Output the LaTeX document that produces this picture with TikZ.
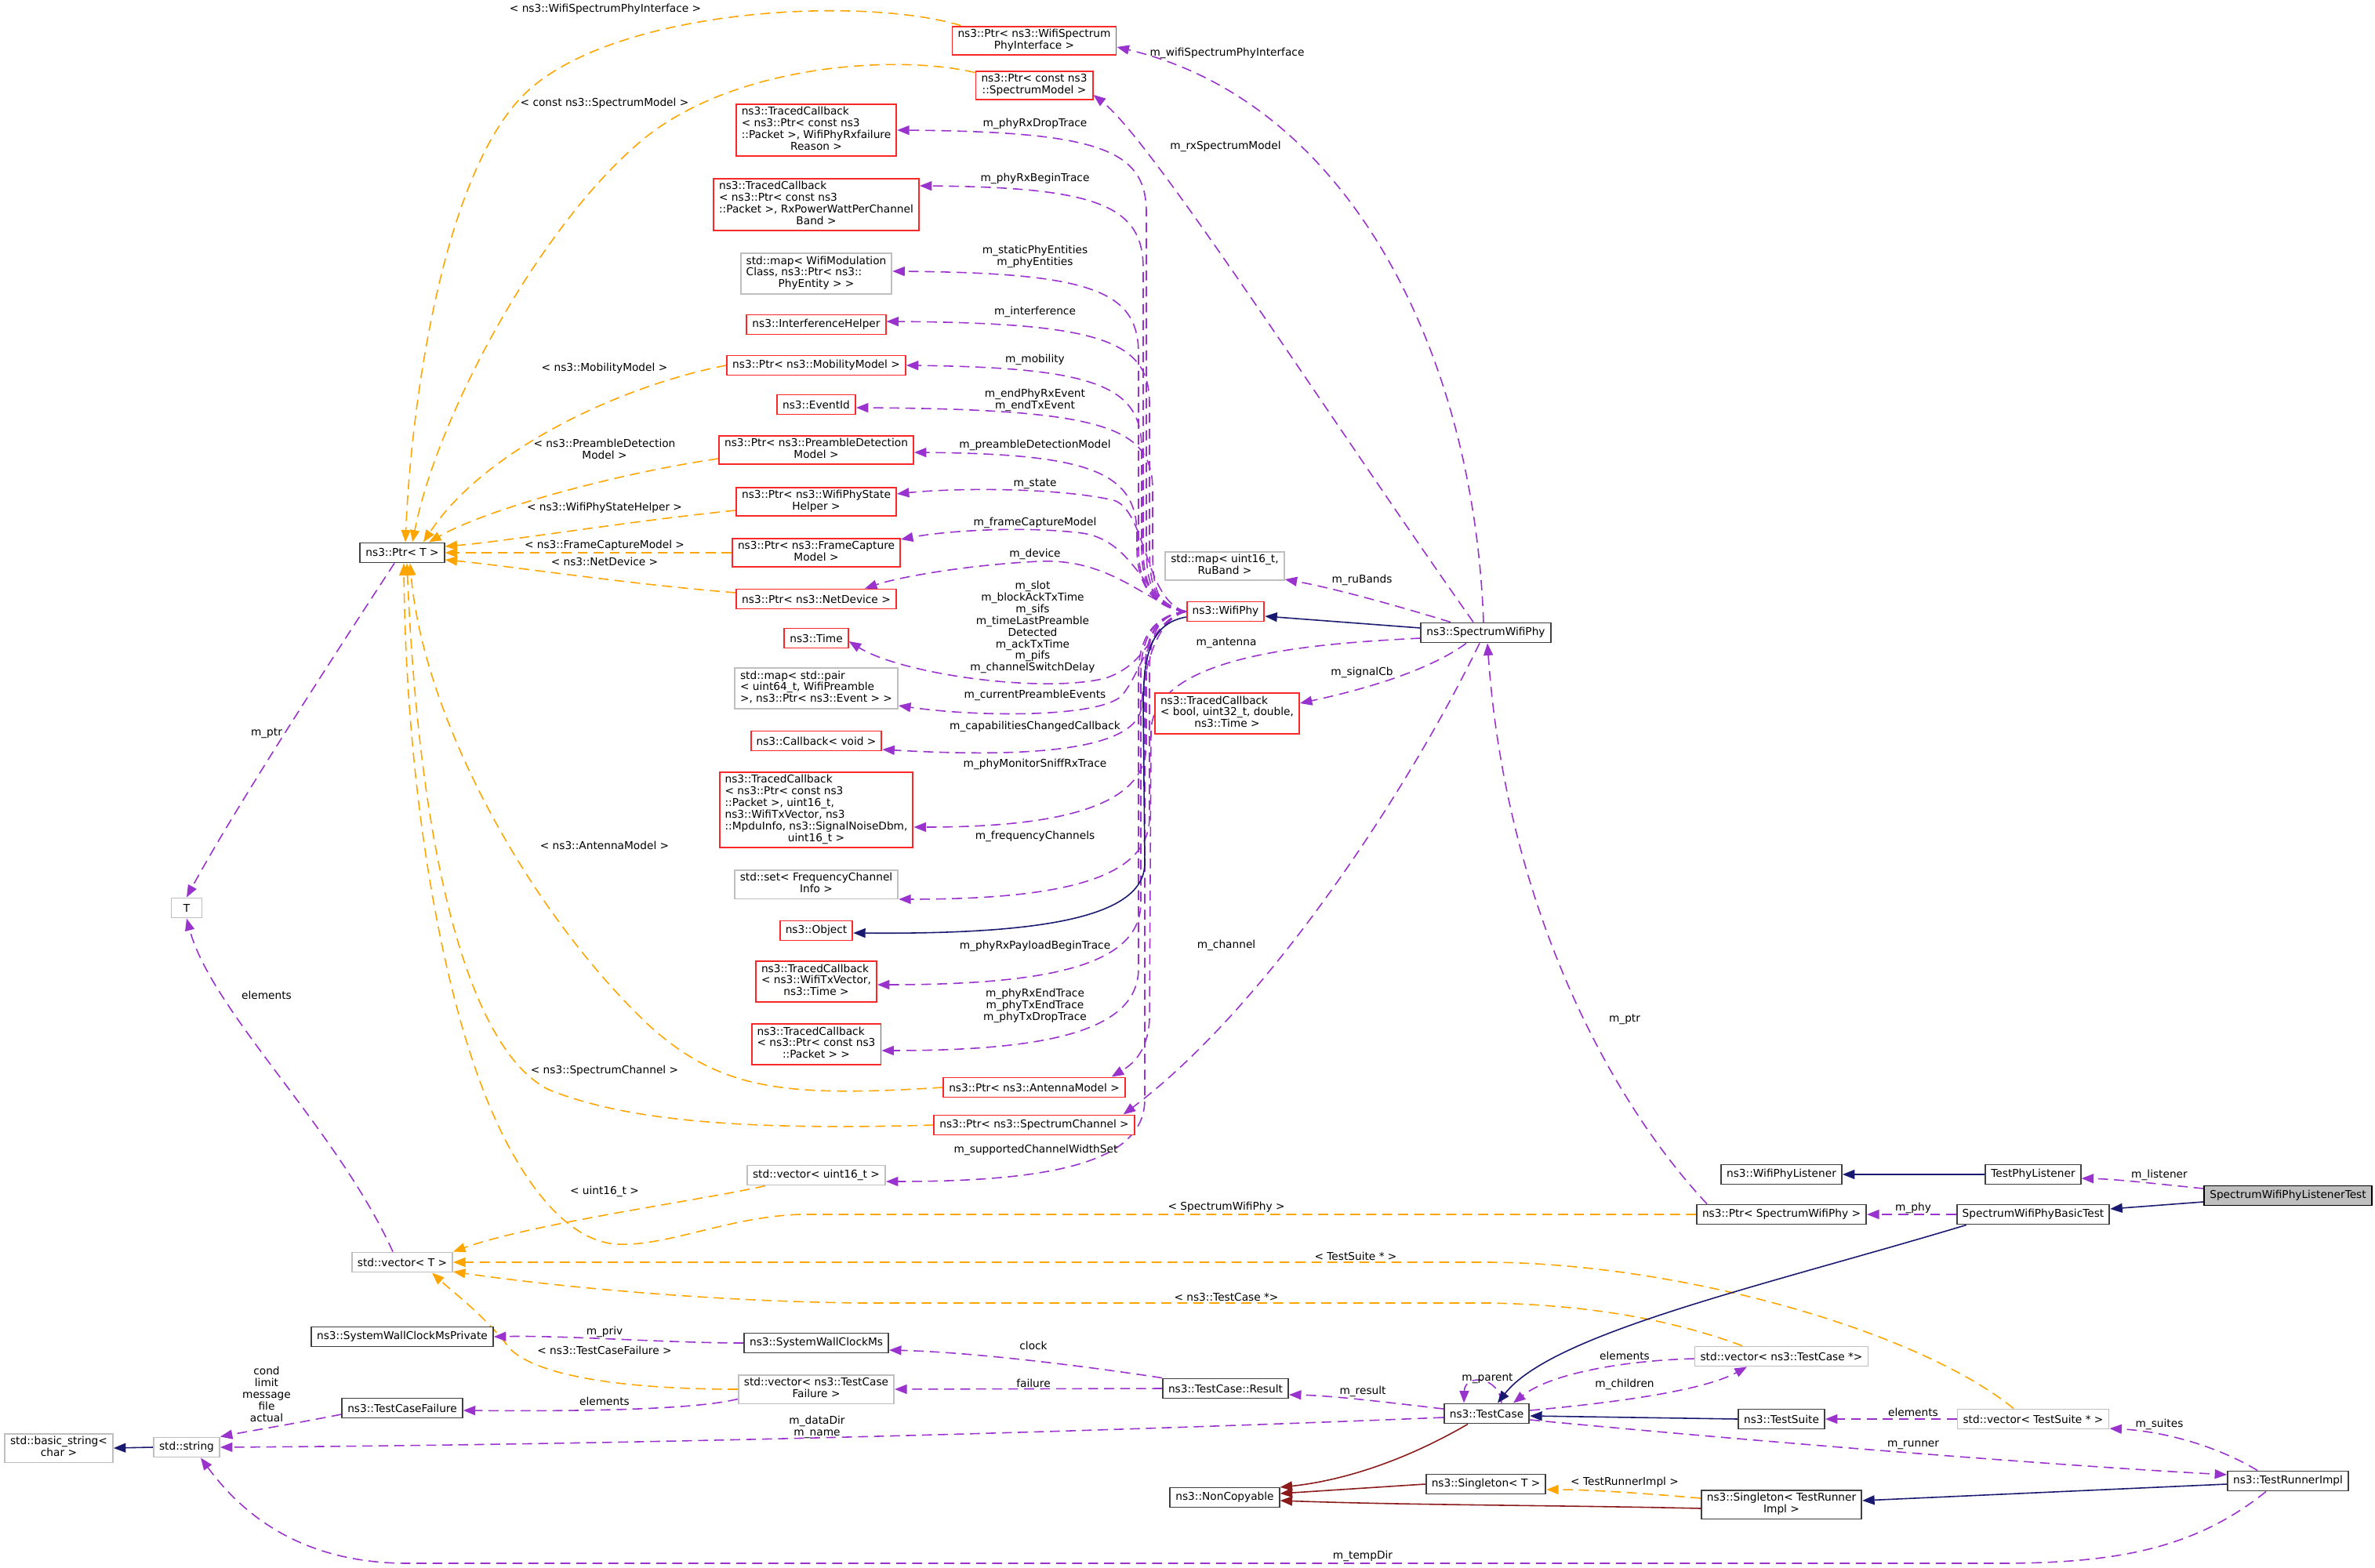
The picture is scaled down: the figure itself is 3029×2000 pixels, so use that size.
\documentclass[tikz,border=0pt]{standalone}
\usepackage{fontspec}
\setmainfont{DejaVu Sans}
\usepackage{tikz}
\usetikzlibrary{arrows.meta,calc}
\definecolor{memberpurple}{RGB}{154,50,205}
\definecolor{tmplorange}{RGB}{255,165,0}
\definecolor{inhnavy}{RGB}{25,25,112}
\definecolor{privred}{RGB}{139,26,26}
\definecolor{boxgrey}{RGB}{191,191,191}
\definecolor{boxdark}{RGB}{64,64,64}
\definecolor{boxred}{RGB}{250,40,40}
\newcommand{\nodefont}{\fontsize{3.9}{4.25}\selectfont}
\newcommand{\boxlines}[1]{\begin{tabular}{@{}l@{}}#1\end{tabular}}
\newcommand{\lastline}[1]{\multicolumn{1}{@{}c@{}}{#1}}
\pgfdeclarelayer{edges}
\pgfsetlayers{edges,main}
\tikzset{
  cls/.style={draw=boxdark, line width=0.55pt, fill=white, font=\nodefont, inner xsep=2pt, inner ysep=1pt, minimum height=0.25cm},
  redcls/.style={cls, draw=boxred},
  greycls/.style={cls, draw=boxgrey},
  focuscls/.style={cls, draw=black, fill=boxgrey},
  memb/.style={draw=memberpurple, line width=0.45pt, dash pattern=on 3.6pt off 2.2pt, -{Triangle[length=4.4pt,width=3.4pt]}},
  tmpl/.style={memb, draw=tmplorange},
  inh/.style={draw=inhnavy, line width=0.45pt, -{Triangle[length=4.4pt,width=3.4pt]}},
  privinh/.style={inh, draw=privred},
  elbl/.style={font=\nodefont, align=center, inner sep=0pt}
}

\begin{document}
\begin{tikzpicture}[x=0.01cm, y=-0.01cm]
    \useasboundingbox (0,0) rectangle (3029,2000);

    % WifiPhy members
    \node[redcls] (wsi) at (1319,52) {\boxlines{ns3::Ptr< ns3::WifiSpectrum\\\lastline{PhyInterface >}}};
    \node[redcls] (smod) at (1319,109) {\boxlines{ns3::Ptr< const ns3\\\lastline{::SpectrumModel >}}};
    \node[redcls] (rxfail) at (1041,166) {\boxlines{ns3::TracedCallback\\< ns3::Ptr< const ns3\\::Packet >, WifiPhyRxfailure\\\lastline{Reason >}}};
    \node[redcls] (rxpow) at (1041,261) {\boxlines{ns3::TracedCallback\\< ns3::Ptr< const ns3\\::Packet >, RxPowerWattPerChannel\\\lastline{Band >}}};
    \node[greycls] (phyent) at (1041,349) {\boxlines{std::map< WifiModulation\\Class, ns3::Ptr< ns3::\\\lastline{PhyEntity > >}}};
    \node[redcls] (intf) at (1041,414) {ns3::InterferenceHelper};
    \node[redcls] (mob) at (1041,466) {ns3::Ptr< ns3::MobilityModel >};
    \node[redcls] (evid) at (1041,516) {ns3::EventId};
    \node[redcls] (pdet) at (1041,574) {\boxlines{ns3::Ptr< ns3::PreambleDetection\\\lastline{Model >}}};
    \node[redcls] (pstate) at (1041,640) {\boxlines{ns3::Ptr< ns3::WifiPhyState\\\lastline{Helper >}}};
    \node[redcls] (fcap) at (1041,705) {\boxlines{ns3::Ptr< ns3::FrameCapture\\\lastline{Model >}}};
    \node[redcls] (ndev) at (1041,764) {ns3::Ptr< ns3::NetDevice >};
    \node[redcls] (time) at (1041,814) {ns3::Time};
    \node[greycls] (pream) at (1041,878) {\boxlines{std::map< std::pair\\< uint64\_t, WifiPreamble\\\lastline{>, ns3::Ptr< ns3::Event > >}}};
    \node[redcls] (cbvoid) at (1041,945) {ns3::Callback< void >};
    \node[redcls] (sniff) at (1041,1033) {\boxlines{ns3::TracedCallback\\< ns3::Ptr< const ns3\\::Packet >, uint16\_t,\\ ns3::WifiTxVector, ns3\\::MpduInfo, ns3::SignalNoiseDbm,\\\lastline{uint16\_t >}}};
    \node[greycls] (fchan) at (1041,1128) {\boxlines{std::set< FrequencyChannel\\\lastline{Info >}}};
    \node[redcls] (obj) at (1041,1187) {ns3::Object};
    \node[redcls] (txvec) at (1041,1252) {\boxlines{ns3::TracedCallback\\< ns3::WifiTxVector,\\\lastline{ns3::Time >}}};
    \node[redcls] (rxpkt) at (1041,1332) {\boxlines{ns3::TracedCallback\\< ns3::Ptr< const ns3\\\lastline{::Packet > >}}};
    \node[redcls] (ant) at (1319,1387) {ns3::Ptr< ns3::AntennaModel >};
    \node[redcls] (sch) at (1319,1435) {ns3::Ptr< ns3::SpectrumChannel >};
    \node[greycls] (vu16) at (1041,1499) {std::vector< uint16\_t >};

    % phy classes
    \node[redcls] (wphy) at (1563,780) {ns3::WifiPhy};
    \node[greycls] (ruband) at (1562,722) {\boxlines{std::map< uint16\_t,\\\lastline{RuBand >}}};
    \node[redcls] (sigcb) at (1565,910) {\boxlines{ns3::TracedCallback\\< bool, uint32\_t, double,\\\lastline{ns3::Time >}}};
    \node[cls] (swphy) at (1895,807) {ns3::SpectrumWifiPhy};

    % templates and strings on the left
    \node[cls] (ptrT) at (513,705) {ns3::Ptr< T >};
    \node[greycls, minimum width=0.39cm] (tnode) at (238,1158) {T};
    \node[greycls] (vecT) at (513,1610) {std::vector< T >};
    \node[cls] (swcmp) at (513,1705) {ns3::SystemWallClockMsPrivate};
    \node[cls] (tcfail) at (513,1796) {ns3::TestCaseFailure};
    \node[greycls] (bstr) at (75,1847) {\boxlines{std::basic\_string<\\\lastline{char >}}};
    \node[greycls] (str) at (238,1846) {std::string};

    % test framework
    \node[cls] (swcm) at (1041,1713) {ns3::SystemWallClockMs};
    \node[greycls] (vtcf) at (1041,1772) {\boxlines{std::vector< ns3::TestCase\\\lastline{Failure >}}};
    \node[cls] (result) at (1563,1771) {ns3::TestCase::Result};
    \node[cls] (tcase) at (1896,1803) {ns3::TestCase};
    \node[cls] (noncp) at (1562,1910) {ns3::NonCopyable};
    \node[cls] (singT) at (1895,1893) {ns3::Singleton< T >};
    \node[cls] (wplis) at (2272,1498) {ns3::WifiPhyListener};
    \node[cls] (tplis) at (2593,1498) {TestPhyListener};
    \node[cls] (psw) at (2272,1549) {ns3::Ptr< SpectrumWifiPhy >};
    \node[cls] (bt) at (2593,1549) {SpectrumWifiPhyBasicTest};
    \node[greycls] (vtc) at (2272,1730) {std::vector< ns3::TestCase *>};
    \node[cls] (tsuite) at (2272,1810) {ns3::TestSuite};
    \node[greycls] (vts) at (2593,1810) {std::vector< TestSuite * >};
    \node[cls] (tri) at (2918,1889) {ns3::TestRunnerImpl};
    \node[cls] (stri) at (2272,1919) {\boxlines{ns3::Singleton< TestRunner\\\lastline{Impl >}}};
    \node[focuscls] (lt) at (2918,1525) {SpectrumWifiPhyListenerTest};

    \begin{pgfonlayer}{edges}
    % WifiPhy fan, upper half
    \draw[memb] (wphy.west) .. controls (1475,776) and (1462,750) .. (1462,700) -- (1462,271) .. controls (1462,191) and (1402,168) .. (rxfail.east);
    \draw[memb] (wphy.west) .. controls (1475,776) and (1458,750) .. (1458,700) -- (1458,342) .. controls (1458,262) and (1398,239) .. ($(rxpow.east)+(0,-24)$);
    \draw[memb] (wphy.west) .. controls (1475,776) and (1452,750) .. (1452,700) -- (1452,451) .. controls (1452,371) and (1392,348) .. ($(phyent.east)+(0,-3)$);
    \draw[memb] (wphy.west) .. controls (1475,776) and (1466,750) .. (1466,700) -- (1466,515) .. controls (1466,435) and (1406,412) .. ($(intf.east)+(0,-4)$);
    \draw[memb] (wphy.west) .. controls (1475,776) and (1456,750) .. (1456,700) -- (1456,572) .. controls (1456,492) and (1396,469) .. (mob.east);
    \draw[memb] (wphy.west) .. controls (1475,776) and (1470,750) .. (1470,700) -- (1470,625) .. controls (1470,545) and (1410,522) .. ($(evid.east)+(0,4)$);
    \draw[memb] (wphy.west) .. controls (1475,776) and (1450,750) .. (1450,700) -- (1450,682) .. controls (1450,602) and (1390,579) .. ($(pdet.east)+(0,3)$);
    \draw[memb] (wphy.west) .. controls (1460,768) and (1462,650) .. (1420,638) .. controls (1350,622) and (1220,622) .. ($(pstate.east)+(0,-10)$);
    \draw[memb] (wphy.west) .. controls (1458,770) and (1450,690) .. (1380,680) .. controls (1300,670) and (1200,678) .. ($(fcap.east)+(0,-17)$);
    \draw[memb] (wphy.west) .. controls (1465,772) and (1420,712) .. (1326,716) .. controls (1240,720) and (1150,735) .. ($(ndev.north)+(62,0)$);

    % WifiPhy fan, lower half
    \draw[memb] (wphy.west) .. controls (1468,790) and (1470,845) .. (1410,865) .. controls (1330,885) and (1150,860) .. ($(time.east)+(0,4)$);
    \draw[memb] (wphy.west) .. controls (1470,790) and (1455,860) .. (1430,888) .. controls (1400,915) and (1250,915) .. ($(pream.east)+(0,22)$);
    \draw[memb] (wphy.west) .. controls (1472,790) and (1458,860) .. (1456,900) .. controls (1452,960) and (1300,966) .. ($(cbvoid.east)+(0,11)$);
    \draw[memb] (wphy.west) .. controls (1475,784) and (1462,810) .. (1462,860) -- (1462,950) .. controls (1462,1025) and (1362,1055) .. ($(sniff.east)+(0,22)$);
    \draw[memb] (wphy.west) .. controls (1475,784) and (1466,810) .. (1466,860) -- (1466,1042) .. controls (1466,1117) and (1366,1147) .. ($(fchan.east)+(0,19)$);
    \draw[memb] (wphy.west) .. controls (1475,784) and (1455,810) .. (1455,860) -- (1455,1151) .. controls (1455,1226) and (1355,1256) .. ($(txvec.east)+(0,4)$);
    \draw[memb] (wphy.west) .. controls (1475,784) and (1452,810) .. (1452,860) -- (1452,1235) .. controls (1452,1310) and (1352,1340) .. ($(rxpkt.east)+(0,8)$);
    \draw[memb] (wphy.west) .. controls (1475,784) and (1460,810) .. (1460,860) -- (1460,1402) .. controls (1460,1477) and (1360,1507) .. ($(vu16.east)+(0,8)$);
    \draw[inh] ($(wphy.west)+(0,7)$) .. controls (1470,795) and (1458,830) .. (1458,900) -- (1460,1100) .. controls (1461,1170) and (1330,1192) .. ($(obj.east)+(0,3)$);

    % SpectrumWifiPhy members
    \draw[inh] ($(swphy.west)+(0,-6)$) -- ($(wphy.east)+(0,6)$);
    \draw[memb] ($(swphy.north)+(-3,0)$) .. controls (1880,450) and (1720,130) .. ($(wsi.east)+(0,8)$);
    \draw[memb] ($(swphy.north)+(-16,0)$) .. controls (1700,540) and (1470,180) .. ($(smod.east)+(0,12)$);
    \draw[memb] ($(swphy.north)+(-45,0)$) .. controls (1780,772) and (1700,750) .. ($(ruband.east)+(0,17)$);
    \draw[memb] ($(swphy.south)+(-25,0)$) .. controls (1830,850) and (1760,875) .. ($(sigcb.east)+(0,-13)$);
    \draw[memb] ($(swphy.west)+(0,7)$) .. controls (1650,822) and (1475,840) .. (1468,930) -- (1466,1300) .. controls (1464,1345) and (1440,1360) .. ($(ant.north east)+(-18,0)$);
    \draw[memb] ($(swphy.south)+(-8,0)$) .. controls (1800,1000) and (1620,1280) .. ($(sch.north east)+(-15,0)$);
    \draw[memb] ($(psw.north west)+(14,0)$) .. controls (2050,1400) and (1920,1150) .. ($(swphy.south)+(2,0)$);

    % template instances of Ptr
    \draw[tmpl] ($(wsi.north west)+(12,0)$) .. controls (1100,-5) and (800,10) .. (680,110) .. controls (570,200) and (525,500) .. ($(ptrT.north)+(4,0)$);
    \draw[tmpl] ($(smod.north west)+(0,3)$) .. controls (1150,70) and (950,80) .. (830,170) .. controls (700,270) and (560,520) .. ($(ptrT.north)+(13,0)$);
    \draw[tmpl] (mob.west) .. controls (800,490) and (620,570) .. ($(ptrT.north)+(27,0)$);
    \draw[tmpl] ($(pdet.west)+(0,11)$) .. controls (780,605) and (620,650) .. ($(ptrT.north)+(34,0)$);
    \draw[tmpl] ($(pstate.west)+(0,11)$) .. controls (800,665) and (650,690) .. ($(ptrT.east)+(0,-8)$);
    \draw[tmpl] (fcap.west) -- (ptrT.east);
    \draw[tmpl] ($(ndev.west)+(0,-8)$) .. controls (800,745) and (650,722) .. ($(ptrT.east)+(0,9)$);
    \draw[tmpl] (ant.west) .. controls (1000,1400) and (920,1390) .. (830,1310) .. controls (680,1170) and (540,920) .. ($(ptrT.south)+(10,0)$);
    \draw[tmpl] (sch.west) .. controls (950,1442) and (800,1430) .. (700,1390) .. controls (600,1340) and (535,1100) .. ($(ptrT.south)+(6,0)$);
    \draw[tmpl] (psw.west) -- (1020,1549) .. controls (930,1552) and (850,1590) .. (788,1587) .. controls (720,1584) and (660,1500) .. (620,1400) .. controls (560,1250) and (518,1000) .. ($(ptrT.south)+(2,0)$);
    \draw[memb] ($(ptrT.south)+(-10,0)$) .. controls (430,830) and (300,1030) .. (tnode.north);

    % template instances of vector
    \draw[tmpl] ($(vu16.south west)+(24,0)$) .. controls (900,1530) and (680,1560) .. (vecT.north east);
    \draw[tmpl] ($(vts.north)+(-25,0)$) .. controls (2450,1700) and (2150,1612) .. (1900,1610) -- (vecT.east);
    \draw[tmpl] ($(vtc.north)+(-50,0)$) .. controls (2150,1690) and (2050,1665) .. (1900,1662) -- (1100,1662) .. controls (900,1660) and (700,1640) .. ($(vecT.east)+(0,12)$);
    \draw[tmpl] (vtcf.west) .. controls (820,1772) and (690,1760) .. (650,1720) .. controls (620,1680) and (580,1650) .. ($(vecT.south)+(38,0)$);
    \draw[memb] ($(vecT.north)+(-12,0)$) .. controls (430,1440) and (270,1290) .. (tnode.south);

    % test case members
    \draw[memb] (swcm.west) .. controls (850,1713) and (720,1703) .. (swcmp.east);
    \draw[memb] (result.north west) .. controls (1400,1745) and (1250,1725) .. ($(swcm.east)+(0,9)$);
    \draw[memb] (result.west) -- (vtcf.east);
    \draw[memb] ($(vtcf.south west)+(0,-7)$) .. controls (880,1800) and (700,1800) .. ($(tcfail.east)+(0,3)$);
    \draw[memb] ($(tcfail.west)+(0,8)$) .. controls (380,1815) and (320,1825) .. (str.north east);
    \draw[inh] (str.west) -- (bstr.east);
    \draw[memb] ($(tcase.west)+(0,5)$) .. controls (1500,1822) and (900,1842) .. (str.east);
    \draw[memb] ($(tri.south)+(-28,0)$) .. controls (2800,1975) and (2700,1994) .. (2550,1994) -- (520,1994) .. controls (420,1994) and (330,1960) .. ($(str.south)+(18,0)$);
    \draw[memb] ($(tcase.west)+(0,-6)$) .. controls (1780,1790) and (1700,1780) .. ($(result.east)+(0,8)$);
    \draw[memb] ($(tcase.north)+(19,0)$) .. controls (1912,1755) and (1868,1752) .. ($(tcase.north)+(-29,0)$);
    \draw[memb] ($(vtc.west)+(0,3)$) .. controls (2080,1735) and (1980,1750) .. ($(tcase.north)+(34,0)$);
    \draw[memb] ($(tcase.east)+(0,-4)$) .. controls (2050,1790) and (2170,1775) .. ($(vtc.south)+(-44,0)$);
    \draw[inh] (tsuite.west) -- ($(tcase.east)+(0,3)$);
    \draw[memb] ($(tcase.east)+(0,8)$) .. controls (2200,1835) and (2600,1868) .. ($(tri.west)+(0,-8)$);
    \draw[inh] ($(bt.south west)+(13,0)$) .. controls (2250,1640) and (1980,1700) .. ($(tcase.north)+(14,0)$);
    \draw[memb] (vts.west) -- (tsuite.east);
    \draw[memb] ($(tri.north)+(-39,0)$) .. controls (2820,1840) and (2750,1825) .. ($(vts.east)+(0,12)$);
    \draw[inh] ($(tri.west)+(0,4)$) -- ($(stri.east)+(0,-5)$);
    \draw[tmpl] ($(stri.west)+(0,-8)$) .. controls (2100,1905) and (2030,1900) .. ($(singT.east)+(0,7)$);
    \draw[privinh] ($(tcase.south)+(-24,0)$) .. controls (1780,1870) and (1700,1890) .. ($(noncp.east)+(0,-13)$);
    \draw[privinh] (singT.west) -- ($(noncp.east)+(0,-5)$);
    \draw[privinh] ($(stri.west)+(0,5)$) .. controls (2000,1920) and (1800,1920) .. ($(noncp.east)+(0,4)$);

    % listener test
    \draw[memb] (bt.west) -- (psw.east);
    \draw[inh] (tplis.west) -- (wplis.east);
    \draw[memb] ($(lt.west)+(0,-9)$) .. controls (2750,1510) and (2700,1504) .. ($(tplis.east)+(0,5)$);
    \draw[inh] ($(lt.west)+(0,8)$) -- ($(bt.east)+(0,-7)$);
    \end{pgfonlayer}

    % edge labels
    \node[elbl] (lDrop) at (1320,158) {m\_phyRxDropTrace};
    \node[elbl] (lBegin) at (1320,228) {m\_phyRxBeginTrace};
    \node[elbl] (lEnt) at (1320,327) {m\_staticPhyEntities\\m\_phyEntities};
    \node[elbl] (lIntf) at (1320,398) {m\_interference};
    \node[elbl] (lMob) at (1320,459) {m\_mobility};
    \node[elbl] (lEvt) at (1320,510) {m\_endPhyRxEvent\\m\_endTxEvent};
    \node[elbl] (lPre) at (1320,568) {m\_preambleDetectionModel};
    \node[elbl] (lState) at (1320,617) {m\_state};
    \node[elbl] (lFcap) at (1320,667) {m\_frameCaptureModel};
    \node[elbl] (lDev) at (1320,707) {m\_device};
    \node[elbl] (lTime) at (1317,800) {m\_slot\\m\_blockAckTxTime\\m\_sifs\\m\_timeLastPreamble\\Detected\\m\_ackTxTime\\m\_pifs\\m\_channelSwitchDelay};
    \node[elbl] (lCur) at (1320,887) {m\_currentPreambleEvents};
    \node[elbl] (lCap) at (1320,927) {m\_capabilitiesChangedCallback};
    \node[elbl] (lSniff) at (1320,975) {m\_phyMonitorSniffRxTrace};
    \node[elbl] (lFreq) at (1320,1067) {m\_frequencyChannels};
    \node[elbl] (lPay) at (1320,1207) {m\_phyRxPayloadBeginTrace};
    \node[elbl] (lEnd) at (1320,1283) {m\_phyRxEndTrace\\m\_phyTxEndTrace\\m\_phyTxDropTrace};
    \node[elbl] (lWidth) at (1321,1467) {m\_supportedChannelWidthSet};
    \node[elbl] (lWsi) at (1565,68) {m\_wifiSpectrumPhyInterface};
    \node[elbl] (lRxsm) at (1563,187) {m\_rxSpectrumModel};
    \node[elbl] (lRu) at (1737,740) {m\_ruBands};
    \node[elbl] (lAnt) at (1564,820) {m\_antenna};
    \node[elbl] (lSig) at (1737,858) {m\_signalCb};
    \node[elbl] (lChan) at (1564,1206) {m\_channel};
    \node[elbl] (lPtrSw) at (2072,1300) {m\_ptr};
    \node[elbl] (tWsi) at (772,12) {< ns3::WifiSpectrumPhyInterface >};
    \node[elbl] (tSm) at (771,132) {< const ns3::SpectrumModel >};
    \node[elbl] (tMob) at (771,470) {< ns3::MobilityModel >};
    \node[elbl] (tPre) at (771,573) {< ns3::PreambleDetection\\Model >};
    \node[elbl] (tState) at (771,648) {< ns3::WifiPhyStateHelper >};
    \node[elbl] (tFcap) at (771,696) {< ns3::FrameCaptureModel >};
    \node[elbl] (tDev) at (771,716) {< ns3::NetDevice >};
    \node[elbl] (tAnt) at (771,1078) {< ns3::AntennaModel >};
    \node[elbl] (tChan) at (771,1366) {< ns3::SpectrumChannel >};
    \node[elbl] (tU16) at (771,1520) {< uint16\_t >};
    \node[elbl] (tSw) at (1564,1540) {< SpectrumWifiPhy >};
    \node[elbl] (tSuite) at (1729,1602) {< TestSuite * >};
    \node[elbl] (tCase) at (1564,1654) {< ns3::TestCase *>};
    \node[elbl] (tFail) at (771,1722) {< ns3::TestCaseFailure >};
    \node[elbl] (tRun) at (2072,1891) {< TestRunnerImpl >};
    \node[elbl] (lPtr) at (340,935) {m\_ptr};
    \node[elbl] (lElT) at (340,1269) {elements};
    \node[elbl] (lPriv) at (771,1699) {m\_priv};
    \node[elbl] (lElF) at (771,1787) {elements};
    \node[elbl] (lCond) at (340,1778) {cond\\limit\\message\\file\\actual};
    \node[elbl] (lClock) at (1318,1716) {clock};
    \node[elbl] (lFailure) at (1318,1764) {failure};
    \node[elbl] (lDir) at (1042,1820) {m\_dataDir\\m\_name};
    \node[elbl] (lTemp) at (1738,1985) {m\_tempDir};
    \node[elbl] (lRes) at (1738,1775) {m\_result};
    \node[elbl] (lParent) at (1897,1758) {m\_parent};
    \node[elbl] (lElC) at (2072,1729) {elements};
    \node[elbl] (lChild) at (2072,1766) {m\_children};
    \node[elbl] (lRun) at (2440,1843) {m\_runner};
    \node[elbl] (lElS) at (2440,1801) {elements};
    \node[elbl] (lSuites) at (2754,1817) {m\_suites};
    \node[elbl] (lPhy) at (2440,1541) {m\_phy};
    \node[elbl] (lList) at (2754,1499) {m\_listener};
\end{tikzpicture}
\end{document}
